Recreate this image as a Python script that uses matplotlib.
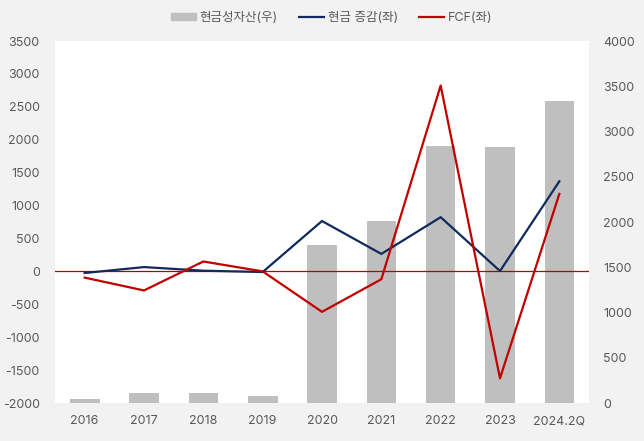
import matplotlib
matplotlib.use("Agg")
import matplotlib.pyplot as plt
from matplotlib.patches import Patch
from matplotlib.lines import Line2D

plt.rcParams['font.family'] = ['Inter', 'Noto Sans CJK KR', 'DejaVu Sans']
plt.rcParams['axes.unicode_minus'] = False

categories = ["2016", "2017", "2018", "2019", "2020", "2021", "2022", "2023", "2024.2Q"]
cash_assets = [45, 110, 110, 80, 1745, 2010, 2835, 2830, 3340]          # right axis
cash_change = [-25, 65, 10, -10, 765, 265, 823, 5, 1368]                # left axis
fcf = [-95, -290, 150, 0, -615, -120, 2823, -1625, 1177]                # left axis

left_ticks = [-2000, -1500, -1000, -500, 0, 500, 1000, 1500, 2000, 2500, 3000, 3500]
right_ticks = [0, 500, 1000, 1500, 2000, 2500, 3000, 3500, 4000]

txt = "#595959"
bg = "#f2f2f2"

fig = plt.figure(figsize=(6.44, 4.41), dpi=100, facecolor=bg)
ax = fig.add_axes([55/644, 1-403/441, (589-55)/644, (403-41)/441])
ax2 = ax.twinx()
ax.set_zorder(ax2.get_zorder() + 1)
ax.patch.set_visible(False)
ax2.set_facecolor("white")
ax2.patch.set_visible(True)

x = list(range(len(categories)))
ax2.bar(x, cash_assets, width=0.5, color="#bfbfbf", zorder=1)
ax2.set_ylim(0, 4000)
ax2.set_yticks(right_ticks)

ax.axhline(0, color="#b00000", lw=0.9, zorder=2)
ax.plot(x, cash_change, color="#0f2a5c", lw=1.6, zorder=3)
ax.plot(x, fcf, color="#c00000", lw=1.6, zorder=4)
ax.set_ylim(-2000, 3500)
ax.set_yticks(left_ticks)
ax.set_xlim(-0.5, len(categories) - 0.5)
ax.set_xticks(x)
ax.set_xticklabels(categories)

for a in (ax, ax2):
    for s in a.spines.values():
        s.set_visible(False)
    a.tick_params(length=0, colors=txt, labelsize=9)
ax.tick_params(axis='x', pad=9)
ax.tick_params(axis='y', pad=11)
ax2.tick_params(axis='y', pad=10)
for lab in ax2.get_yticklabels():
    lab.set_horizontalalignment('left')

handles = [Patch(color="#bfbfbf", label="현금성자산(우)"),
           Line2D([], [], color="#0f2a5c", lw=1.6, label="현금 증감(좌)"),
           Line2D([], [], color="#c00000", lw=1.6, label="FCF(좌)")]
fig.legend(handles=handles, loc="center", bbox_to_anchor=(0.515, 1 - 18/441), ncol=3,
           frameon=False, fontsize=9, labelcolor=txt, handlelength=2.0,
           handleheight=0.5, columnspacing=1.7, handletextpad=0.3)

fig.savefig("out.png", dpi=100, facecolor=bg)
